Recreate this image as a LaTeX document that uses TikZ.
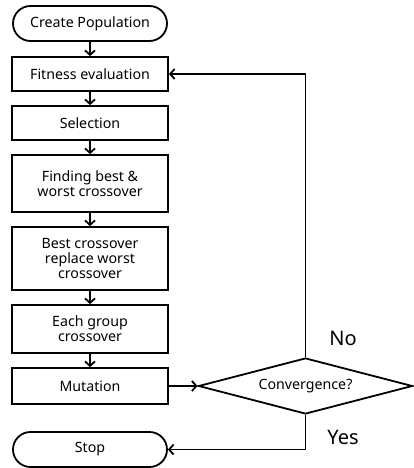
\documentclass[tikz,border=0pt]{standalone}
\usepackage{fontspec}
\setmainfont{Noto Sans}
\usetikzlibrary{arrows.meta, shapes.misc, shapes.geometric}

\begin{document}
\begin{tikzpicture}[
    x=1pt, y=-1pt,
    >={Straight Barb[length=4.5pt,width=10pt]},
    line width=1.8pt,
    font=\fontsize{14.2}{15}\selectfont,
    proc/.style={
        draw,
        minimum width=156pt,
        inner sep=1pt,
        align=center
    },
    term/.style={
        draw,
        rounded rectangle,
        minimum width=156pt,
        minimum height=35pt,
        inner sep=1pt
    },
    dec/.style={
        draw,
        diamond,
        aspect=3.86,
        minimum width=214pt,
        minimum height=56pt,
        inner sep=0pt
    },
    lab/.style={
        font=\fontsize{20}{20}\selectfont,
        inner sep=1pt
    }
]
\useasboundingbox (0,0) rectangle (414,468);

% =========================================================
% main column
% =========================================================
\node[term] (start) at (90, 23.5) {Create Population};
\node[proc, minimum height=34pt] (fit) at (90, 74) {Fitness evaluation};
\node[proc, minimum height=34pt] (sel) at (90, 123) {Selection};
\node[proc, minimum height=57pt] (find) at (90, 183.5) {Finding best \&\\worst crossover};
\node[proc, minimum height=63pt] (repl) at (90, 258.5) {Best crossover\\replace worst\\crossover};
\node[proc, minimum height=48pt] (grp) at (90, 329) {Each group\\crossover};
\node[proc, minimum height=36pt] (mut) at (90, 386) {Mutation};
\node[term] (stop) at (90, 449.5) {Stop};

% column arrows
\draw[->] (start) -- (fit);
\draw[->] (fit) -- (sel);
\draw[->] (sel) -- (find);
\draw[->] (find) -- (repl);
\draw[->] (repl) -- (grp);
\draw[->] (grp) -- (mut);

% =========================================================
% decision
% =========================================================
\node[dec] (conv) at (305.5, 386) {Convergence?};

\draw[->] (mut) -- (conv);
\draw[->] (conv.north) |- (fit.east);
\draw[->] (conv.south) |- (stop.east);

\node[lab] (no)  at (343, 338) {No};
\node[lab] (yes) at (343, 437) {Yes};

\end{tikzpicture}
\end{document}
